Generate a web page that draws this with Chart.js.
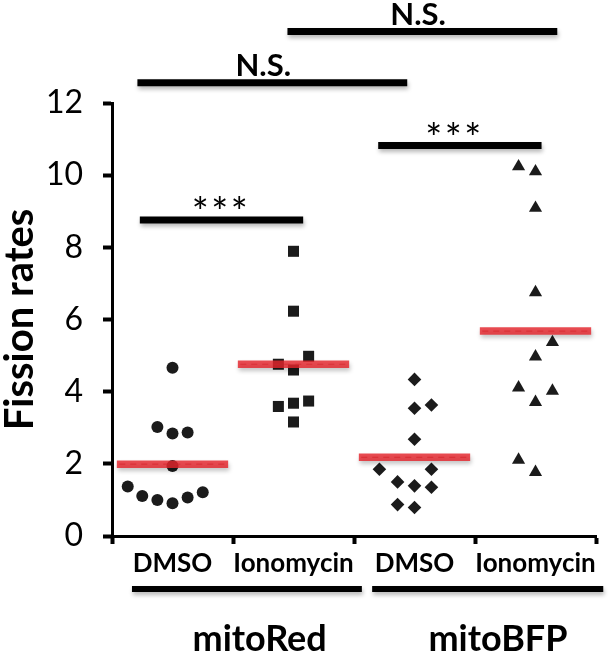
<!DOCTYPE html>
<html>
<head>
<meta charset="utf-8">
<script src="https://cdn.jsdelivr.net/npm/chart.js@4.4.1/dist/chart.umd.min.js"></script>
<style>
html,body{margin:0;padding:0;background:#fff;}
canvas{display:block;}
</style>
</head>
<body>
<canvas id="c" width="614" height="656"></canvas>
<script>
// ---- data ----
const categories = ['DMSO', 'Ionomycin', 'DMSO', 'Ionomycin'];
const groupNames = ['mitoRed', 'mitoBFP'];
const yTicks = [0, 2, 4, 6, 8, 10, 12];

const redDmso  = [4.66, 3.02, 2.84, 2.87, 1.94, 1.37, 1.11, 1.00, 0.91, 1.07, 1.21];
const redIono  = [7.89, 6.23, 4.98, 4.76, 4.60, 3.74, 3.68, 3.59, 3.16];
const bfpDmso  = [4.34, 3.54, 3.63, 2.68, 1.85, 1.85, 1.50, 1.39, 1.35, 0.87, 0.79];
const bfpIono  = [10.24, 10.10, 9.09, 6.75, 5.37, 4.97, 4.11, 4.02, 3.71, 2.11, 1.77];

// horizontal scatter (jitter) of each point, in category units
const redDmsoJit = [0, -0.125, 0, 0.125, 0, -0.37, -0.25, -0.125, 0, 0.125, 0.25];
const redIonoJit = [0, 0, 0.125, -0.125, 0, 0.125, 0, -0.125, 0];
const bfpDmsoJit = [0, 0, 0.14, 0, -0.29, 0.14, -0.14, 0, 0.14, -0.14, 0];
const bfpIonoJit = [-0.14, 0, 0, 0, 0.14, 0, -0.14, 0.14, 0, -0.14, 0];

const means = [1.99, 4.76, 2.18, 5.68];

// significance brackets: from category, to category, label
const sigFrom  = [1.95, 0.71, 2.70, 0.73];
const sigTo    = [4.18, 2.94, 4.05, 2.08];
const sigLevel = [13.98, 12.56, 10.82, 8.76];
const sigText  = ['N.S.', 'N.S.', '***', '***'];
const sigTextX = [3.03, 1.75, 3.32, 1.39];

// ---- build ----
const ink = '#1b1b1b';
const values = [redDmso, redIono, bfpDmso, bfpIono];
const jitters = [redDmsoJit, redIonoJit, bfpDmsoJit, bfpIonoJit];
const styles = ['circle', 'rect', 'rectRot', 'triangle'];
const radii = [6, 7.8, 6.8, 7.6];

const datasets = [];
// mean lines
means.forEach((m, i) => {
  const c = i + 1;
  datasets.push({type: 'line', data: [{x: c - 0.46, y: m}, {x: c + 0.46, y: m}],
    borderColor: 'rgba(228,36,44,0.82)', borderWidth: 7.5, pointRadius: 0, shadow: true, clip: false});
  datasets.push({type: 'line', data: [{x: c - 0.44, y: m}, {x: c + 0.44, y: m}],
    borderColor: 'rgba(165,20,30,0.55)', borderWidth: 1.2, borderDash: [6, 5], pointRadius: 0, clip: false});
});
// points
values.forEach((vals, i) => {
  datasets.push({type: 'scatter',
    data: vals.map((v, k) => ({x: i + 1 + jitters[i][k], y: v})),
    pointStyle: styles[i], pointRadius: radii[i], backgroundColor: ink, borderWidth: 0});
});
// significance bars
sigFrom.forEach((f, i) => {
  datasets.push({type: 'line', data: [{x: f, y: sigLevel[i]}, {x: sigTo[i], y: sigLevel[i]}],
    borderColor: '#000', borderWidth: 7, pointRadius: 0, clip: false, shadow: true});
});
// group underline bars
const groupFrom = [0.665, 2.65];
const groupTo = [2.565, 4.56];
groupFrom.forEach((f, i) => {
  datasets.push({type: 'line', data: [{x: f, y: -1.47}, {x: groupTo[i], y: -1.47}],
    borderColor: '#000', borderWidth: 6, pointRadius: 0, clip: false, shadow: true});
});

const shadowPlugin = {
  id: 'shadow',
  beforeDatasetDraw(chart, args) {
    const ds = chart.data.datasets[args.index];
    if (ds.shadow) {
      const ctx = chart.ctx;
      ctx.shadowColor = 'rgba(0,0,0,0.28)';
      ctx.shadowBlur = 4;
      ctx.shadowOffsetX = 1;
      ctx.shadowOffsetY = 3;
    }
  },
  afterDatasetDraw(chart) {
    const ctx = chart.ctx;
    ctx.shadowColor = 'rgba(0,0,0,0)';
    ctx.shadowBlur = 0;
    ctx.shadowOffsetX = 0;
    ctx.shadowOffsetY = 0;
  }
};

const textPlugin = {
  id: 'texts',
  afterDatasetsDraw(chart) {
    const ctx = chart.ctx;
    const xs = chart.scales.x, ys = chart.scales.y;
    ctx.save();
    ctx.fillStyle = '#000';
    ctx.textAlign = 'center';
    ctx.textBaseline = 'alphabetic';
    sigText.forEach((t, i) => {
      const x = xs.getPixelForValue(sigTextX[i]);
      const y = ys.getPixelForValue(sigLevel[i]);
      if (t === '***') {
        ctx.font = '40px Lato';
        ctx.fillText('*\u200A*\u200A*', x, y + 7);
      } else {
        ctx.font = 'bold 31px Lato';
        ctx.fillText(t, x, y - 7);
      }
    });
    ctx.font = 'bold 36px Lato';
    const gx = [1.72, 3.69];
    groupNames.forEach((g, i) => {
      ctx.fillText(g, xs.getPixelForValue(gx[i]), ys.getPixelForValue(-3.18));
    });
    ctx.restore();
  }
};

new Chart(document.getElementById('c'), {
  data: {datasets},
  plugins: [shadowPlugin, textPlugin],
  options: {
    responsive: false,
    animation: false,
    events: [],
    layout: {padding: {left: 0, right: 18, top: 103, bottom: 70}},
    plugins: {legend: {display: false}, tooltip: {enabled: false}},
    scales: {
      x: {
        type: 'linear', min: 0.5, max: 4.5,
        afterBuildTicks(scale) {
          scale.ticks = [0.5, 1, 1.5, 2, 2.5, 3, 3.5, 4, 4.5].map(v => ({value: v}));
        },
        afterFit(scale) { scale.height = 50; },
        grid: {
          drawOnChartArea: false, drawTicks: true, tickLength: 8,
          tickWidth: c => (c.tick && Number.isInteger(c.tick.value)) ? 0 : 4,
          tickColor: c => (c.tick && Number.isInteger(c.tick.value)) ? 'rgba(0,0,0,0)' : '#000'
        },
        border: {display: true, color: '#000', width: 3},
        ticks: {
          autoSkip: false, maxRotation: 0, padding: 4, color: '#000',
          font: {family: 'Lato', size: 26, weight: 'bold'},
          callback: (v) => Number.isInteger(v) ? categories[v - 1] : ''
        }
      },
      y: {
        type: 'linear', min: 0, max: 12,
        afterBuildTicks(scale) { scale.ticks = yTicks.map(v => ({value: v})); },
        afterFit(scale) { scale.width = 112; },
        grid: {drawOnChartArea: false, drawTicks: true, tickLength: 9, tickWidth: 4, tickColor: '#000'},
        border: {display: true, color: '#000', width: 3},
        ticks: {padding: 20, color: '#000', font: {family: 'Lato', size: 32}},
        title: {display: true, text: 'Fission rates', color: '#000',
          font: {family: 'Lato', size: 40, weight: 'bold', lineHeight: 1.0}, padding: {top: 0, bottom: 0}}
      }
    }
  }
});
</script>
</body>
</html>
